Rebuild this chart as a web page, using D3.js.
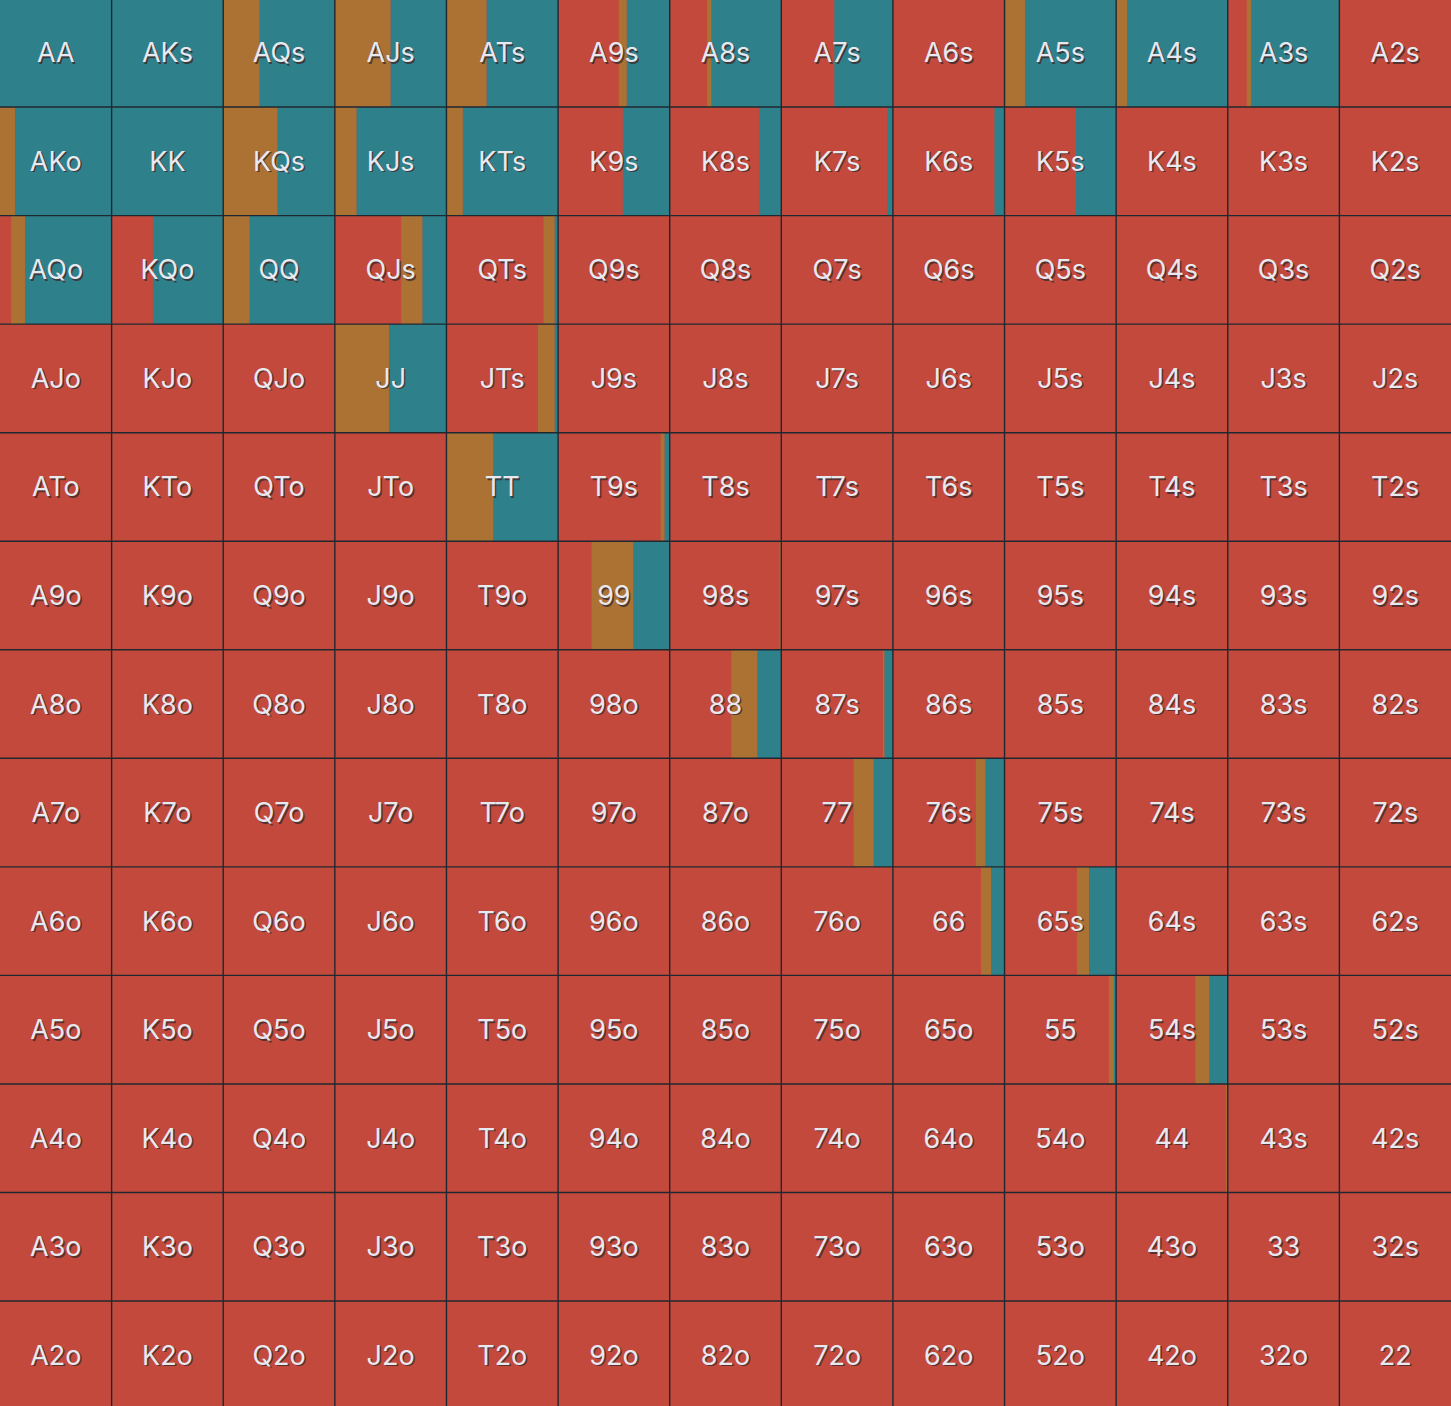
<!DOCTYPE html>
<html>
<head>
<meta charset="utf-8">
<script src="https://cdn.jsdelivr.net/npm/d3@7"></script>
<style>
body { margin: 0; background: #c4493d; overflow: hidden; }
svg { display: block; }
</style>
</head>
<body>
<div id="chart"></div>
<script>
var ranks = ["A","K","Q","J","T","9","8","7","6","5","4","3","2"];

// share of each hand that is raised (teal)
var raiseFreq = [
	[1, 1, 0.674, 0.50, 0.64, 0.384, 0.625, 0.525, 0, 0.815, 0.90, 0.79, 0],
	[0.866, 1, 0.513, 0.805, 0.853, 0.42, 0.20, 0.05, 0.09, 0.36, 0, 0, 0],
	[0.775, 0.63, 0.763, 0.215, 0.03, 0, 0, 0, 0, 0, 0, 0, 0],
	[0, 0, 0, 0.515, 0.03, 0, 0, 0, 0, 0, 0, 0, 0],
	[0, 0, 0, 0, 0.58, 0.045, 0, 0, 0, 0, 0, 0, 0],
	[0, 0, 0, 0, 0, 0.325, 0, 0, 0, 0, 0, 0, 0],
	[0, 0, 0, 0, 0, 0, 0.214, 0.075, 0, 0, 0, 0, 0],
	[0, 0, 0, 0, 0, 0, 0, 0.172, 0.17, 0, 0, 0, 0],
	[0, 0, 0, 0, 0, 0, 0, 0, 0.12, 0.243, 0, 0, 0],
	[0, 0, 0, 0, 0, 0, 0, 0, 0, 0.02, 0.165, 0, 0],
	[0, 0, 0, 0, 0, 0, 0, 0, 0, 0, 0, 0, 0],
	[0, 0, 0, 0, 0, 0, 0, 0, 0, 0, 0, 0, 0],
	[0, 0, 0, 0, 0, 0, 0, 0, 0, 0, 0, 0, 0]
];

// share of each hand that is called (orange)
var callFreq = [
	[0, 0, 0.326, 0.50, 0.36, 0.072, 0.04, 0, 0, 0.185, 0.10, 0.04, 0],
	[0.134, 0, 0.487, 0.195, 0.147, 0, 0, 0, 0, 0, 0, 0, 0],
	[0.125, 0, 0.237, 0.19, 0.10, 0, 0, 0, 0, 0, 0, 0, 0],
	[0, 0, 0, 0.485, 0.15, 0, 0, 0, 0, 0, 0, 0, 0],
	[0, 0, 0, 0, 0.42, 0.036, 0, 0, 0, 0, 0, 0, 0],
	[0, 0, 0, 0, 0, 0.375, 0.015, 0, 0, 0, 0, 0, 0],
	[0, 0, 0, 0, 0, 0, 0.233, 0.015, 0, 0, 0, 0, 0],
	[0, 0, 0, 0, 0, 0, 0, 0.18, 0.087, 0, 0, 0, 0],
	[0, 0, 0, 0, 0, 0, 0, 0, 0.09, 0.107, 0, 0, 0],
	[0, 0, 0, 0, 0, 0, 0, 0, 0, 0.045, 0.125, 0, 0],
	[0, 0, 0, 0, 0, 0, 0, 0, 0, 0, 0.015, 0, 0],
	[0, 0, 0, 0, 0, 0, 0, 0, 0, 0, 0, 0, 0],
	[0, 0, 0, 0, 0, 0, 0, 0, 0, 0, 0, 0, 0]
];

var actions = ["fold","call","raise"];
var colors = {"fold":"#c4493d","call":"#ac7234","raise":"#2e808b"};

var width = 1451, height = 1406;

var svg = d3.select("#chart").append("svg")
	.attr("width", width)
	.attr("height", height);

var x = d3.scaleBand().domain(d3.range(13)).range([0, width]);
// grid is a bit taller than the window, top row is cut by ~1.5px
var y = d3.scaleBand().domain(d3.range(13)).range([-1.5, 1409.6]);

function handName(i, j)
{
	if (i == j) return ranks[i] + ranks[j];
	if (j > i) return ranks[i] + ranks[j] + "s";
	return ranks[j] + ranks[i] + "o";
}

var cells = [];
for (var i = 0; i < 13; i++)
{
	for (var j = 0; j < 13; j++)
	{
		var r = raiseFreq[i][j], c = callFreq[i][j];
		cells.push({row: i, col: j, name: handName(i, j), fold: Math.max(0, 1 - r - c), call: c, raise: r});
	}
}

var stack = d3.stack().keys(actions);
var series = stack(cells);
var frac = d3.scaleLinear().domain([0, 1]).range([0, x.bandwidth()]);

var g = svg.append("g");

series.forEach(function(s) {
	g.append("g").attr("class", s.key)
		.selectAll("rect")
		.data(s)
		.join("rect")
		.attr("x", function(d) { return x(d.data.col) + frac(d[0]); })
		.attr("y", function(d) { return y(d.data.row); })
		.attr("width", function(d) { return Math.max(0, frac(d[1]) - frac(d[0])); })
		.attr("height", y.bandwidth())
		.attr("fill", colors[s.key]);
});

// grid lines
svg.append("g").selectAll("line.v")
	.data(d3.range(1, 13))
	.join("line")
	.attr("x1", function(d) { return x(d); })
	.attr("x2", function(d) { return x(d); })
	.attr("y1", 0).attr("y2", height)
	.attr("stroke", "#1f2830").attr("stroke-width", 1.4);

svg.append("g").selectAll("line.h")
	.data(d3.range(1, 13))
	.join("line")
	.attr("y1", function(d) { return y(d); })
	.attr("y2", function(d) { return y(d); })
	.attr("x1", 0).attr("x2", width)
	.attr("stroke", "#1f2830").attr("stroke-width", 1.4);

var labels = svg.append("g")
	.attr("font-family", "Inter, Roboto, sans-serif")
	.attr("font-size", 27)
	.attr("text-anchor", "middle")
	.attr("dominant-baseline", "central");

labels.selectAll("text.shadow")
	.data(cells)
	.join("text")
	.attr("class", "shadow")
	.attr("x", function(d) { return x(d.col) + x.bandwidth() / 2 + 1.5; })
	.attr("y", function(d) { return y(d.row) + y.bandwidth() / 2 + 1.5; })
	.attr("fill", "#3a2a2a")
	.attr("fill-opacity", 0.8)
	.text(function(d) { return d.name; });

labels.selectAll("text.label")
	.data(cells)
	.join("text")
	.attr("class", "label")
	.attr("x", function(d) { return x(d.col) + x.bandwidth() / 2; })
	.attr("y", function(d) { return y(d.row) + y.bandwidth() / 2; })
	.attr("fill", "#e8e8ef")
	.text(function(d) { return d.name; });
</script>
</body>
</html>
